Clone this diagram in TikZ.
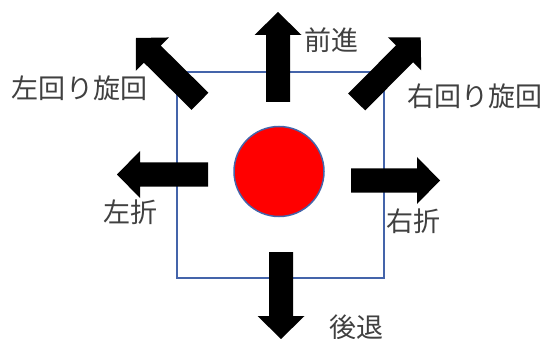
\documentclass[tikz,border=0pt]{standalone}
\usepackage{fontspec}
\newfontfamily\jpfont{Noto Sans CJK JP}
\usetikzlibrary{calc}
\definecolor{sqblue}{RGB}{68,100,170}
\definecolor{txtgray}{RGB}{64,64,64}
\newcommand\blockarrow[2]{%
  \coordinate (hb) at ($(#2)!23pt!(#1)$);
  \fill[arrowfill] ($(#1)!12pt!90:(#2)$) -- ($(hb)!12pt!-90:(#1)$) -- ($(hb)!23.5pt!-90:(#1)$)
    -- (#2) -- ($(hb)!23.5pt!90:(#1)$) -- ($(hb)!12pt!90:(#1)$) -- ($(#1)!12pt!-90:(#2)$) -- cycle;}
\begin{document}
\begin{tikzpicture}[x=1pt,y=-1pt,
  arrowfill/.style={fill=black},
  lbl/.style={font=\jpfont\fontsize{27}{27}\selectfont, text=txtgray, inner sep=0pt},
  ]
\useasboundingbox (0,0) rectangle (548,339);
\node[draw=sqblue, line width=1.5pt, minimum width=207pt, minimum height=206pt, inner sep=0pt] (sq) at (280.5,175) {};
\node[circle, draw=sqblue, line width=1.5pt, fill=red, minimum size=90pt, inner sep=0pt] (ball) at (279,171.5) {};
% arrow end points
\coordinate (upA) at (278,102);   \coordinate (upT) at (278,12);
\coordinate (dnA) at (281,252);   \coordinate (dnT) at (281,339);
\coordinate (ltA) at (208,174.5); \coordinate (ltT) at (117,174.5);
\coordinate (rtA) at (351,180.5); \coordinate (rtT) at (440,180.5);
\coordinate (ulA) at (200,101.3); \coordinate (ulT) at (136,38);
\coordinate (urA) at (356.7,102); \coordinate (urT) at (420.7,37.5);
\blockarrow{upA}{upT}
\blockarrow{dnA}{dnT}
\blockarrow{ltA}{ltT}
\blockarrow{rtA}{rtT}
\blockarrow{ulA}{ulT}
\blockarrow{urA}{urT}
% labels
\node[lbl] (fwd) at (331,40.5) {前進};
\node[lbl] (bwd) at (356,327) {後退};
\node[lbl] (left) at (130,212.5) {左折};
\node[lbl] (right) at (413.7,220.8) {右折};
\node[lbl] (ccw) at (79.5,88.5) {左回り旋回};
\node[lbl] (cw) at (475,96.7) {右回り旋回};
\end{tikzpicture}
\end{document}
